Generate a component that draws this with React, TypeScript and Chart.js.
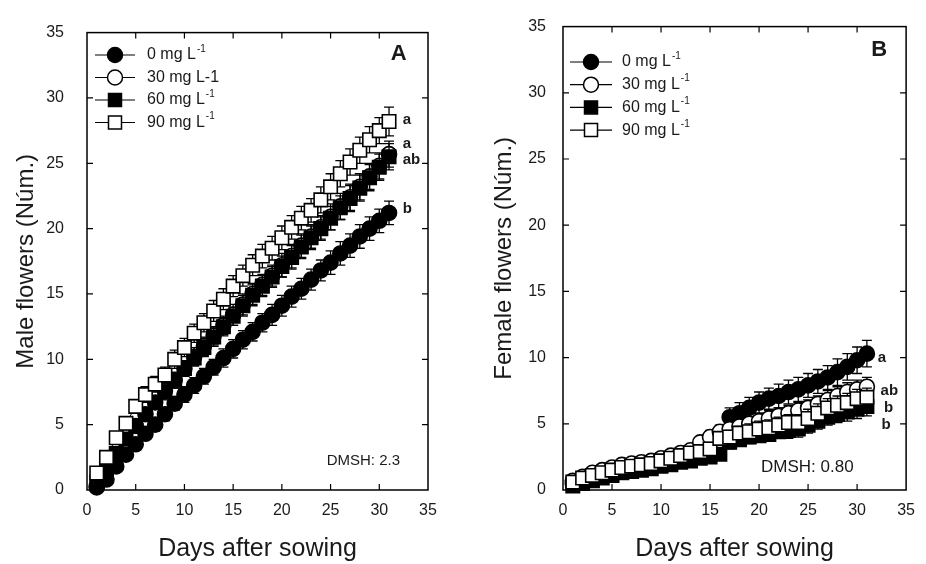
import React, { useEffect, useRef } from 'react';
import { Chart, registerables } from 'chart.js';
Chart.register(...registerables);

const FONT = '"Liberation Sans", Arial, Helvetica, sans-serif';
const TXT = '#1a1a1a';

// ---------- data ----------
const days = [1,2,3,4,5,6,7,8,9,10,11,12,13,14,15,16,17,18,19,20,21,22,23,24,25,26,27,28,29,30,31];
const axisTicks = [0, 5, 10, 15, 20, 25, 30, 35];
const seriesLabels = ['0 mg L^-1', '30 mg L^-1', '60 mg L^-1', '90 mg L^-1'];
const seriesLabelsA = ['0 mg L^-1', '30 mg L-1', '60 mg L^-1', '90 mg L^-1'];

// Panel A: male flowers
const male0 = [0.3,0.8,1.8,2.7,3.5,4.3,5.0,5.8,6.6,7.3,8.0,8.7,9.4,10.1,10.8,11.5,12.1,12.8,13.4,14.1,14.8,15.4,16.1,16.8,17.4,18.1,18.7,19.4,20.0,20.6,21.2];
const male0Err = [0.2,0.3,0.3,0.4,0.4,0.4,0.5,0.5,0.5,0.6,0.6,0.6,0.6,0.7,0.7,0.7,0.7,0.7,0.8,0.8,0.8,0.8,0.8,0.8,0.9,0.9,0.9,0.9,0.9,0.9,0.9];
const male30 = [0.2,1.5,2.7,3.8,4.9,5.8,6.7,7.6,8.4,9.3,10.2,11.0,11.8,12.6,13.4,14.2,15.0,15.7,16.4,17.2,17.9,18.7,19.4,20.1,20.9,21.7,22.4,23.2,24.0,24.8,25.7];
const male30Err = [0.2,0.3,0.4,0.4,0.5,0.5,0.5,0.6,0.6,0.6,0.7,0.7,0.7,0.7,0.8,0.8,0.8,0.8,0.8,0.9,0.9,0.9,0.9,0.9,1.0,1.0,1.0,1.0,1.0,1.0,1.0];
const male60 = [0.6,1.6,2.8,3.9,4.9,5.8,6.7,7.5,8.4,9.3,10.1,10.9,11.7,12.5,13.3,14.1,14.9,15.6,16.3,17.1,17.8,18.6,19.3,20.0,20.8,21.6,22.3,23.1,23.9,24.7,25.5];
const male60Err = [0.2,0.3,0.4,0.4,0.5,0.5,0.5,0.6,0.6,0.6,0.6,0.7,0.7,0.7,0.7,0.8,0.8,0.8,0.8,0.8,0.9,0.9,0.9,0.9,0.9,0.9,1.0,1.0,1.0,1.0,1.0];
const male90 = [1.3,2.5,4.0,5.1,6.4,7.3,8.1,8.8,10.0,10.9,12.0,12.8,13.7,14.6,15.6,16.4,17.2,17.9,18.5,19.3,20.1,20.8,21.4,22.2,23.2,24.2,25.1,26.0,26.8,27.5,28.2];
const male90Err = [0.3,0.4,0.4,0.5,0.5,0.6,0.6,0.6,0.7,0.7,0.7,0.7,0.8,0.8,0.8,0.8,0.8,0.9,0.9,0.9,0.9,0.9,0.9,1.0,1.0,1.0,1.0,1.0,1.0,1.0,1.1];

// Panel B: female flowers
const fem0 = [0.5,0.8,1.0,1.2,1.4,1.6,1.7,1.8,1.9,2.1,2.3,2.5,2.7,3.2,3.7,4.1,5.5,5.8,6.2,6.6,6.9,7.1,7.4,7.6,7.9,8.2,8.5,8.9,9.3,9.8,10.3];
const fem0Err = [0.2,0.2,0.3,0.3,0.3,0.3,0.3,0.4,0.4,0.4,0.4,0.4,0.5,0.5,0.5,0.5,0.7,0.8,0.8,0.8,0.8,0.9,0.9,0.9,0.9,0.9,0.9,1.0,1.0,1.0,1.0];
const fem30 = [0.7,1.0,1.3,1.5,1.7,1.9,2.0,2.1,2.2,2.4,2.6,2.8,3.0,3.6,4.0,4.4,4.6,4.8,5.0,5.2,5.4,5.6,5.8,6.0,6.2,6.5,6.8,7.1,7.4,7.6,7.8];
const fem30Err = [0.2,0.2,0.3,0.3,0.3,0.3,0.3,0.3,0.3,0.4,0.4,0.4,0.4,0.4,0.5,0.5,0.5,0.5,0.5,0.6,0.6,0.6,0.6,0.6,0.6,0.6,0.7,0.7,0.7,0.7,0.7];
const fem60 = [0.3,0.5,0.7,0.9,1.1,1.3,1.4,1.5,1.6,1.8,1.9,2.1,2.2,2.4,2.5,2.7,3.6,3.8,4.0,4.1,4.2,4.4,4.5,4.6,4.9,5.2,5.5,5.7,5.9,6.1,6.3];
const fem60Err = [0.1,0.2,0.2,0.2,0.2,0.3,0.3,0.3,0.3,0.3,0.3,0.3,0.4,0.4,0.4,0.4,0.5,0.5,0.5,0.5,0.5,0.5,0.6,0.6,0.6,0.6,0.6,0.6,0.7,0.7,0.7];
const fem90 = [0.6,0.9,1.1,1.3,1.5,1.7,1.8,1.9,2.0,2.2,2.4,2.6,2.8,2.9,3.1,3.9,4.0,4.3,4.4,4.6,4.7,4.9,5.1,5.1,5.4,5.8,6.2,6.4,6.6,6.9,7.0];
const fem90Err = [0.2,0.2,0.3,0.3,0.3,0.3,0.3,0.3,0.4,0.4,0.4,0.4,0.4,0.5,0.5,0.5,0.5,0.5,0.6,0.6,0.6,0.6,0.6,0.6,0.7,0.7,0.7,0.7,0.7,0.7,0.7];

// significance letters (text, x value, y value)
const lettersA = [['a', 32.4, 28.3], ['a', 32.4, 26.5], ['ab', 32.4, 25.3], ['b', 32.4, 21.5]];
const lettersB = [['a', 32.1, 10.0], ['ab', 32.4, 7.5], ['b', 32.75, 6.2], ['b', 32.5, 4.9]];

// ---------- plugins ----------
const errorBars = {
  id: 'errorBars',
  beforeDatasetDraw(chart: any, args: any) {
    const ds: any = chart.data.datasets[args.index];
    if (!ds.errors) return;
    const ys = chart.scales.y;
    const ctx = chart.ctx;
    ctx.save();
    ctx.strokeStyle = '#000';
    ctx.lineWidth = 1.3;
    args.meta.data.forEach((pt: any, i: number) => {
      const v = ds.data[i].y;
      const e = ds.errors[i];
      const x = pt.x;
      const yt = ys.getPixelForValue(v + e);
      const yb = ys.getPixelForValue(Math.max(0, v - e));
      ctx.beginPath();
      ctx.moveTo(x, yt); ctx.lineTo(x, yb);
      ctx.moveTo(x - 5, yt); ctx.lineTo(x + 5, yt);
      ctx.moveTo(x - 5, yb); ctx.lineTo(x + 5, yb);
      ctx.stroke();
    });
    ctx.restore();
  },
};

const frame = {
  id: 'frame',
  afterDraw(chart: any) {
    const { ctx, chartArea: a } = chart;
    const xs = chart.scales.x, ys = chart.scales.y;
    ctx.save();
    ctx.strokeStyle = '#000';
    ctx.lineWidth = 1.5;
    ctx.strokeRect(a.left, a.top, a.right - a.left, a.bottom - a.top);
    ctx.lineWidth = 1.2;
    ctx.beginPath();
    xs.ticks.forEach((t: any) => {
      if (t.value <= 0 || t.value >= 35) return;
      const x = xs.getPixelForValue(t.value);
      ctx.moveTo(x, a.bottom); ctx.lineTo(x, a.bottom - 6);
      ctx.moveTo(x, a.top); ctx.lineTo(x, a.top + 6);
    });
    ys.ticks.forEach((t: any) => {
      if (t.value <= 0 || t.value >= 35) return;
      const y = ys.getPixelForValue(t.value);
      ctx.moveTo(a.left, y); ctx.lineTo(a.left + 6, y);
      ctx.moveTo(a.right, y); ctx.lineTo(a.right - 6, y);
    });
    ctx.stroke();
    ctx.restore();
  },
};

function drawMarker(ctx: any, style: string, filled: boolean, x: number, y: number, r: number) {
  ctx.beginPath();
  if (style === 'circle') ctx.arc(x, y, r, 0, Math.PI * 2);
  else ctx.rect(x - r, y - r, 2 * r, 2 * r);
  ctx.fillStyle = filled ? '#000' : '#fff';
  ctx.fill();
  ctx.lineWidth = 1.5;
  ctx.strokeStyle = '#000';
  ctx.stroke();
}

const overlay = {
  id: 'overlay',
  afterDraw(chart: any) {
    const o = chart.options.plugins.overlay;
    const { ctx } = chart;
    const xs = chart.scales.x, ys = chart.scales.y;
    ctx.save();
    // legend
    const lg = o.legend;
    lg.items.forEach((it: any, i: number) => {
      const y = lg.y0 + i * lg.gap;
      ctx.strokeStyle = '#000';
      ctx.lineWidth = 1.2;
      ctx.beginPath();
      ctx.moveTo(lg.x0, y); ctx.lineTo(lg.x1, y);
      ctx.stroke();
      drawMarker(ctx, it.style, it.filled, (lg.x0 + lg.x1) / 2, y, it.style === 'circle' ? 7.5 : 6.5);
      const parts = it.label.split('^');
      ctx.fillStyle = TXT;
      ctx.textBaseline = 'middle';
      ctx.textAlign = 'left';
      ctx.font = `${lg.size}px ${FONT}`;
      ctx.fillText(parts[0], lg.tx, y);
      if (parts[1]) {
        const w = ctx.measureText(parts[0]).width;
        ctx.font = `${Math.round(lg.size * 0.62)}px ${FONT}`;
        ctx.fillText(parts[1], lg.tx + w + 1, y - 6);
      }
    });
    // panel tag
    ctx.fillStyle = TXT;
    ctx.font = `bold 22px ${FONT}`;
    ctx.textAlign = 'center';
    ctx.textBaseline = 'middle';
    ctx.fillText(o.tag[0], xs.getPixelForValue(o.tag[1]), ys.getPixelForValue(o.tag[2]));
    // letters
    ctx.font = `bold 15px ${FONT}`;
    ctx.textAlign = 'left';
    o.letters.forEach((l: any) => {
      ctx.fillText(l[0], xs.getPixelForValue(l[1]), ys.getPixelForValue(l[2]));
    });
    // DMSH
    ctx.font = `${o.dmsh[3]}px ${FONT}`;
    ctx.fillText(o.dmsh[0], xs.getPixelForValue(o.dmsh[1]), ys.getPixelForValue(o.dmsh[2]));
    ctx.restore();
  },
};

const styles = [
  { style: 'circle', filled: true },
  { style: 'circle', filled: false },
  { style: 'rect', filled: true },
  { style: 'rect', filled: false },
];

function makeDatasets(vals: number[][], errs: number[][], orders: number[]) {
  return vals.map((v, k) => ({
    label: seriesLabels[k],
    data: days.map((d, i) => ({ x: d, y: v[i] })),
    errors: errs[k],
    order: orders[k],
    borderColor: '#000',
    borderWidth: 1,
    pointStyle: styles[k].style === 'circle' ? 'circle' : 'rect',
    pointRadius: styles[k].style === 'circle' ? 7.5 : 9.5,
    pointBackgroundColor: styles[k].filled ? '#000' : '#fff',
    pointBorderColor: '#000',
    pointBorderWidth: 1.6,
    showLine: true,
    fill: false,
    tension: 0,
    clip: false,
  }));
}

interface PanelCfg {
  left: number;
  yTitle: string;
  yTitlePad: number;
  yWidth: number;
  yTickPad: number;
  padRight: number;
  vals: number[][];
  errs: number[][];
  orders: number[];
  overlay: any;
}

function Panel({ cfg }: { cfg: PanelCfg }) {
  const ref = useRef<HTMLCanvasElement>(null);
  useEffect(() => {
    if (!ref.current) return;
    const tickFont = { family: FONT, size: 16 };
    const chart = new Chart(ref.current, {
      type: 'line',
      data: { datasets: makeDatasets(cfg.vals, cfg.errs, cfg.orders) as any },
      options: {
        responsive: false,
        animation: false,
        events: [],
        layout: { padding: { left: 0, right: cfg.padRight, top: 23, bottom: 0 } },
        plugins: {
          legend: { display: false },
          tooltip: { enabled: false },
          overlay: cfg.overlay,
        } as any,
        scales: {
          x: {
            type: 'linear',
            min: 0,
            max: 35,
            afterBuildTicks: (s: any) => { s.ticks = axisTicks.map((v) => ({ value: v })); },
            ticks: { padding: 11, font: tickFont, color: TXT, maxRotation: 0, autoSkip: false },
            grid: { display: false, drawTicks: false },
            border: { display: false },
            title: { display: true, text: 'Days after sowing', color: TXT, font: { family: FONT, size: 25 }, padding: { top: 0, bottom: 0 } },
            afterFit: (s: any) => { s.height = 74; },
          },
          y: {
            type: 'linear',
            min: 0,
            max: 35,
            afterBuildTicks: (s: any) => { s.ticks = axisTicks.map((v) => ({ value: v })); },
            ticks: { padding: cfg.yTickPad, font: tickFont, color: TXT, autoSkip: false },
            grid: { display: false, drawTicks: false },
            border: { display: false },
            title: { display: true, text: cfg.yTitle, color: TXT, font: { family: FONT, size: 24 }, padding: { top: cfg.yTitlePad, bottom: 0 } },
            afterFit: (s: any) => { s.width = cfg.yWidth; },
          },
        },
      } as any,
      plugins: [errorBars, frame, overlay],
    });
    return () => chart.destroy();
  }, []);
  return (
    <canvas
      ref={ref}
      width={463}
      height={564}
      style={{ position: 'absolute', left: cfg.left, top: 0, width: 463, height: 564, display: 'block' }}
    />
  );
}

const panelA: PanelCfg = {
  left: 0,
  yTitle: 'Male flowers (Núm.)',
  yTitlePad: 11.6,
  yWidth: 87,
  yTickPad: 23,
  padRight: 35,
  vals: [male0, male30, male60, male90],
  errs: [male0Err, male30Err, male60Err, male90Err],
  orders: [1, 3, 2, 0],
  overlay: {
    legend: {
      x0: 95, x1: 135, tx: 147, y0: 55, gap: 22.5, size: 16,
      items: seriesLabelsA.map((l, k) => ({ label: l, ...styles[k] })),
    },
    tag: ['A', 32.0, 33.4],
    letters: lettersA,
    dmsh: ['DMSH: 2.3', 24.6, 2.25, 15],
  },
};

const panelB: PanelCfg = {
  left: 463,
  yTitle: 'Female flowers (Núm.)',
  yTitlePad: 26.6,
  yWidth: 100,
  yTickPad: 17,
  padRight: 19,
  vals: [fem0, fem30, fem60, fem90],
  errs: [fem0Err, fem30Err, fem60Err, fem90Err],
  orders: [2, 1, 3, 0],
  overlay: {
    legend: {
      x0: 107, x1: 149, tx: 159, y0: 62, gap: 22.7, size: 16,
      items: seriesLabels.map((l, k) => ({ label: l, ...styles[k] })),
    },
    tag: ['B', 32.25, 33.2],
    letters: lettersB,
    dmsh: ['DMSH: 0.80', 20.2, 1.75, 17],
  },
};

export default function App() {
  return (
    <div style={{ position: 'absolute', left: 0, top: 0, width: 926, height: 564, background: '#fff', overflow: 'hidden' }}>
      <Panel cfg={panelA} />
      <Panel cfg={panelB} />
    </div>
  );
}
